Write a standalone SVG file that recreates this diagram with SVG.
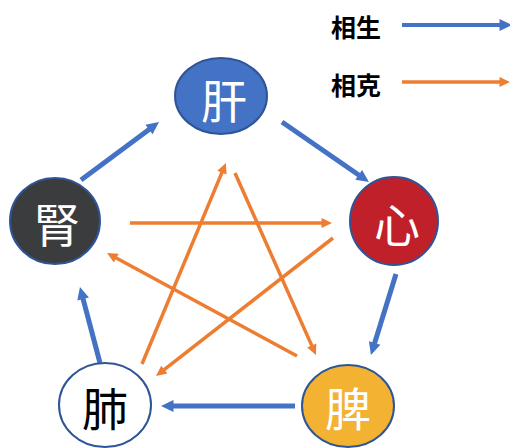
<svg xmlns="http://www.w3.org/2000/svg" width="510" height="448" viewBox="0 0 510 448">
<style>
.node{stroke:#2F5597;stroke-width:2}
.lbl{font-family:"Noto Sans CJK SC","Noto Sans CJK JP",sans-serif;font-size:46px;text-anchor:middle;dominant-baseline:central}
.leg{font-family:"Noto Sans CJK SC","Noto Sans CJK JP",sans-serif;font-size:25px;font-weight:bold;fill:#000;dominant-baseline:central}
.sheng{stroke:#4472C4;stroke-width:5;fill:none}
.ke{stroke:#ED7D31;stroke-width:3.5;fill:none}
</style>
<defs>
<marker id="hb" markerUnits="userSpaceOnUse" orient="auto" overflow="visible" markerWidth="1" markerHeight="1" refX="0" refY="0">
<path d="M-0.5,-6 L12,0 L-0.5,6 z" fill="#4472C4"/>
</marker>
<marker id="ho" markerUnits="userSpaceOnUse" orient="auto" overflow="visible" markerWidth="1" markerHeight="1" refX="0" refY="0">
<path d="M-0.5,-5 L10,0 L-0.5,5 z" fill="#ED7D31"/>
</marker>
</defs>
<g id="legend">
<text class="leg" x="331" y="26">相生</text>
<line class="sheng" x1="402" y1="25" x2="500" y2="25" style="stroke-width:4" marker-end="url(#hb)"/>
<text class="leg" x="331" y="84">相克</text>
<line class="ke" x1="402" y1="82" x2="500" y2="82" marker-end="url(#ho)"/>
</g>
<g id="connectors">
<line class="sheng" x1="81" y1="180" x2="149.4" y2="129.2" marker-end="url(#hb)"/>
<line class="sheng" x1="282" y1="122" x2="359.1" y2="175.2" marker-end="url(#hb)"/>
<line class="sheng" x1="396" y1="274" x2="374.5" y2="343.5" marker-end="url(#hb)"/>
<line class="sheng" x1="295" y1="406" x2="173" y2="406" marker-end="url(#hb)"/>
<line class="sheng" x1="100" y1="363" x2="83" y2="298.6" marker-end="url(#hb)"/>
<line class="ke" x1="130" y1="223" x2="322" y2="223" marker-end="url(#ho)"/>
<line class="ke" x1="333" y1="238" x2="163.9" y2="369.9" marker-end="url(#ho)"/>
<line class="ke" x1="142" y1="364" x2="222.1" y2="172.2" marker-end="url(#ho)"/>
<line class="ke" x1="235" y1="173" x2="311.9" y2="345.9" marker-end="url(#ho)"/>
<line class="ke" x1="297" y1="356" x2="115.8" y2="257.8" marker-end="url(#ho)"/>
</g>
<g id="gan">
<ellipse class="node" cx="221" cy="96" rx="46" ry="38" fill="#4472C4"/>
<text class="lbl" x="224" y="98" fill="#fff">肝</text>
</g>
<g id="shen">
<ellipse class="node" cx="55" cy="221" rx="45" ry="43" fill="#3B3C3E"/>
<text class="lbl" x="57" y="222" fill="#fff">腎</text>
</g>
<g id="xin">
<ellipse class="node" cx="394" cy="221" rx="44" ry="44" fill="#C0202A"/>
<text class="lbl" x="397" y="222" fill="#fff">心</text>
</g>
<g id="fei">
<ellipse class="node" cx="105" cy="405" rx="46" ry="42" fill="#fff"/>
<text class="lbl" x="105" y="406" fill="#000">肺</text>
</g>
<g id="pi">
<ellipse class="node" cx="348" cy="406" rx="46" ry="41" fill="#F4B233"/>
<text class="lbl" x="348" y="406" fill="#fff">脾</text>
</g>
</svg>
